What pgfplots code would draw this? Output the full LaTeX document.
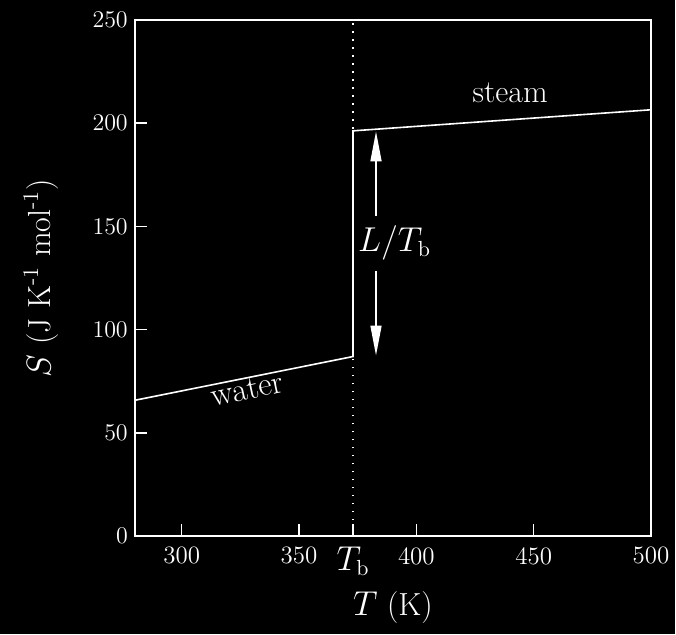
\documentclass[border=0pt]{standalone}
\usepackage{pgfplots}
\pgfplotsset{compat=1.18}
\usetikzlibrary{arrows.meta}
\begin{document}
\begin{tikzpicture}
\fill[black] (-67.5pt,-49pt) rectangle (270.5pt,268.5pt);
\begin{axis}[
  at={(0pt,0pt)}, anchor=south west,
  scale only axis, width=258.5pt, height=258.5pt,
  xmin=280, xmax=500, ymin=0, ymax=250,
  axis line style={white, line width=0.75pt},
  tick style={white, line width=0.75pt},
  major tick length=6pt,
  tick align=inside,
  tick pos=left,
  xtick={300,350,373,400,450,500},
  xticklabels={300,350,{\fontsize{16}{19}\selectfont$T_\mathrm{b}$},400,450,500},
  ytick={0,50,100,150,200,250},
  ticklabel style={font=\fontsize{12.5}{15}\selectfont, text=white},
  xticklabel style={anchor=north, yshift=-2pt},
  label style={font=\fontsize{16}{19}\selectfont, text=white},
  xlabel={$T$ (K)},
  ylabel={$S$ (J K\textsuperscript{-1} mol\textsuperscript{-1})},
  xlabel style={at={(axis description cs:0.5,-0.139)}, anchor=center},
  ylabel style={at={(axis description cs:-0.182,0.5)}, anchor=center},
  clip=false,
]
\addplot[white, line width=0.75pt, dash pattern=on 0.75pt off 3.25pt] coordinates {(373,0) (373,250)};
\addplot[white, line width=0.8pt] coordinates {(280,65.8) (373,87) (373,196.3) (500,206.5)};
\draw[white, line width=0.8pt, -{Stealth[length=15pt, width=5.5pt, inset=0pt]}] (axis cs:382.8,155) -- (axis cs:382.8,196);
\draw[white, line width=0.8pt, -{Stealth[length=15pt, width=5.5pt, inset=0pt]}] (axis cs:382.8,128.3) -- (axis cs:382.8,87.5);
\node[text=white, font=\fontsize{16}{19}\selectfont] at (axis cs:390.7,142) {$L/T_\mathrm{b}$};
\node[text=white, font=\fontsize{16}{19}\selectfont] at (axis cs:440,214.5) {steam};
\node[text=white, font=\fontsize{16.5}{19}\selectfont, rotate=12] at (axis cs:328,71) {water};
\end{axis}
\end{tikzpicture}
\end{document}
